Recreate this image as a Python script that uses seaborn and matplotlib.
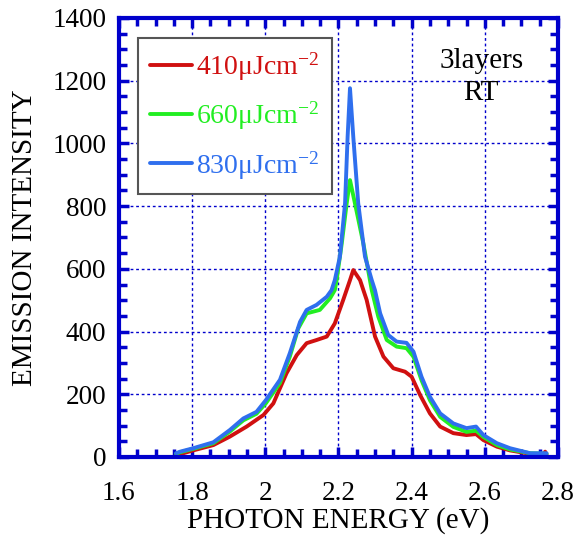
import numpy as np
import pandas as pd
import matplotlib
matplotlib.use('Agg')
import matplotlib.pyplot as plt
import seaborn as sns

# valeurs (energie en eV, intensite)
e_410 = [1.756, 1.767, 1.803, 1.858, 1.903, 1.949, 1.995, 2.022, 2.058, 2.086, 2.113,
         2.140, 2.168, 2.190, 2.213, 2.2315, 2.2405, 2.259, 2.277, 2.300, 2.323, 2.350,
         2.382, 2.400, 2.423, 2.450, 2.478, 2.514, 2.550, 2.576, 2.596, 2.633, 2.669,
         2.724, 2.760, 2.765, 2.769]
i_410 = [5, 9, 21, 38, 65, 97, 134, 171, 267, 325, 363,
         373, 384, 426, 501, 564, 596, 564, 501, 384, 320, 283,
         272, 256, 198, 139, 97, 76, 70, 73, 54, 33, 21,
         10, 8, 17, 6]

e_660 = [1.756, 1.767, 1.803, 1.858, 1.903, 1.940, 1.976, 2.002, 2.040, 2.067, 2.090,
         2.113, 2.149, 2.177, 2.190, 2.195, 2.209, 2.2225, 2.2315, 2.245, 2.268, 2.286,
         2.291, 2.309, 2.332, 2.359, 2.386, 2.405, 2.427, 2.450, 2.478, 2.514, 2.550,
         2.576, 2.596, 2.633, 2.669, 2.724, 2.769]
i_660 = [10, 15, 26, 44, 81, 117, 138, 172, 236, 320, 410,
         458, 469, 506, 532, 564, 681, 809, 883, 809, 681, 564,
         532, 447, 373, 352, 347, 320, 245, 181, 128, 96, 80,
         84, 64, 38, 24, 12, 10]

e_830 = [1.756, 1.767, 1.803, 1.858, 1.903, 1.940, 1.976, 2.002, 2.040, 2.067, 2.095,
         2.113, 2.140, 2.168, 2.181, 2.190, 2.204, 2.218, 2.225, 2.2315, 2.2405, 2.254,
         2.2725, 2.291, 2.2998, 2.314, 2.336, 2.359, 2.386, 2.405, 2.427, 2.450, 2.478,
         2.514, 2.550, 2.576, 2.596, 2.633, 2.669, 2.724, 2.769]
i_830 = [12, 17, 28, 47, 86, 123, 144, 182, 246, 331, 431,
         469, 485, 511, 532, 564, 639, 809, 1021, 1176, 1021, 809,
         639, 564, 532, 458, 389, 368, 364, 336, 256, 192, 139,
         107, 92, 97, 70, 44, 28, 12, 12]

labels = ['410μJcm$^{-2}$', '660μJcm$^{-2}$', '830μJcm$^{-2}$']
colors = ['#d01010', '#22ee22', '#2f6fee']

x_ticks = [1.6, 1.8, 2.0, 2.2, 2.4, 2.6, 2.8]
x_ticklabels = ['1.6', '1.8', '2', '2.2', '2.4', '2.6', '2.8']
y_ticks = [0, 200, 400, 600, 800, 1000, 1200, 1400]

df = pd.concat([
    pd.DataFrame({'energy': e_410, 'intensity': i_410, 'fluence': labels[0]}),
    pd.DataFrame({'energy': e_660, 'intensity': i_660, 'fluence': labels[1]}),
    pd.DataFrame({'energy': e_830, 'intensity': i_830, 'fluence': labels[2]}),
])

sns.set_style('ticks')
plt.rcParams['font.family'] = ['Liberation Serif', 'DejaVu Serif']
plt.rcParams['mathtext.fontset'] = 'custom'
plt.rcParams['mathtext.rm'] = 'Liberation Serif'
plt.rcParams['mathtext.it'] = 'Liberation Serif'
plt.rcParams['text.color'] = 'black'
plt.rcParams['axes.labelcolor'] = 'black'
plt.rcParams['xtick.labelcolor'] = 'black'
plt.rcParams['ytick.labelcolor'] = 'black'

fig = plt.figure(figsize=(5.77, 5.35), dpi=100)
ax = fig.add_axes([0.2062, 0.1458, 0.7608, 0.8206])

sns.lineplot(data=df, x='energy', y='intensity', hue='fluence', palette=colors,
             estimator=None, sort=True, lw=2.8, ax=ax)

axis_blue = '#0000cc'
ax.set_xlim(1.6, 2.8)
ax.set_ylim(0, 1400)
ax.set_xticks(x_ticks)
ax.set_xticklabels(x_ticklabels)
ax.set_yticks(y_ticks)
ax.set_xticks(np.arange(1.6, 2.801, 0.05), minor=True)
ax.set_yticks(np.arange(0, 1401, 50), minor=True)
ax.tick_params(which='both', direction='in', top=True, right=True, color=axis_blue,
               width=2.5, labelsize=19.5)
ax.tick_params(axis='x', which='major', pad=17)
ax.tick_params(axis='y', which='major', pad=9)
ax.tick_params(which='major', length=7)
ax.tick_params(which='minor', length=6)
for s in ax.spines.values():
    s.set_color(axis_blue)
    s.set_linewidth(3)
ax.grid(True, which='major', color=axis_blue, linestyle=(0, (2, 2)), linewidth=1)

ax.set_xlabel('PHOTON ENERGY (eV)', fontsize=21, labelpad=1)
ax.set_ylabel('EMISSION INTENSITY', fontsize=21, labelpad=10)

leg = ax.legend(loc='upper left', bbox_to_anchor=(0.043, 0.954), fontsize=20,
                frameon=True, fancybox=False, edgecolor='#555555', framealpha=1,
                handlelength=1.5, handletextpad=0.15, labelspacing=0.6,
                borderpad=0.45, borderaxespad=0)
leg.get_frame().set_linewidth(1.5)
for txt, c in zip(leg.get_texts(), colors):
    txt.set_color(c)

ax.text(0.825, 0.866, '3layers\nRT', transform=ax.transAxes, ha='center', va='center',
        fontsize=21, linespacing=1.3)

plt.savefig('out.png', dpi=100)
